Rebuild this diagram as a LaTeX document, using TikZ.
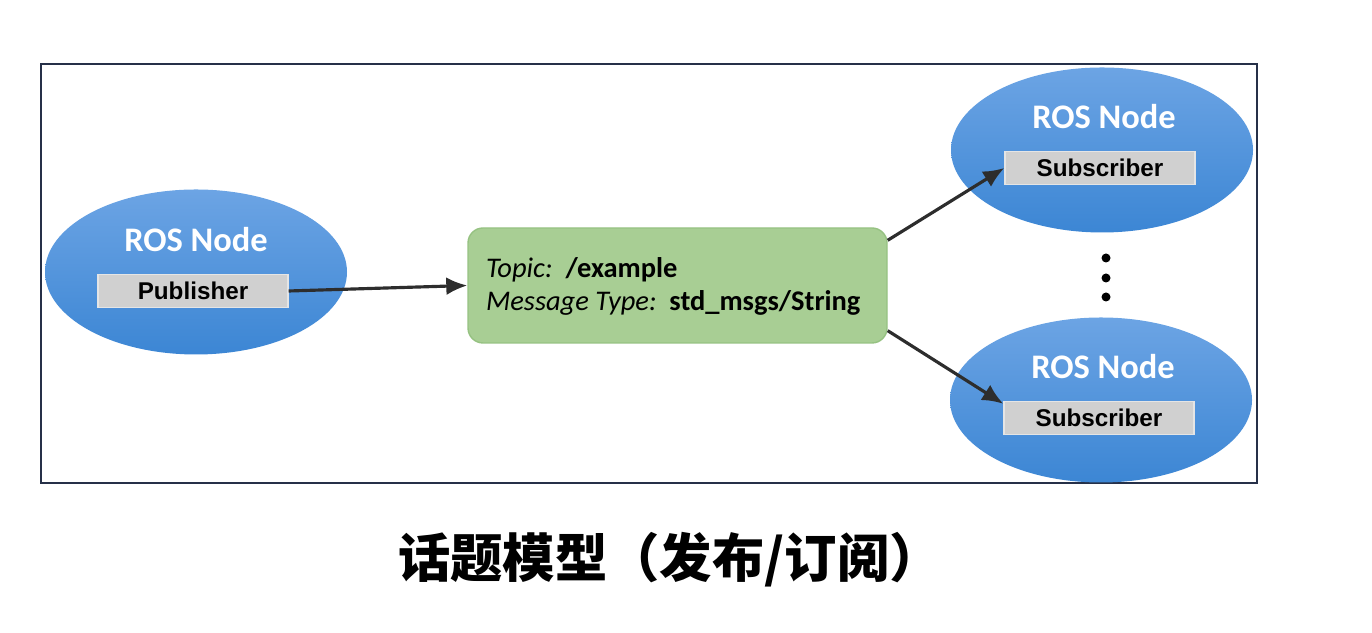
\documentclass[tikz,border=0pt]{standalone}
\usepackage{fontspec}
\setmainfont{Carlito}
\newfontfamily\arialfont{Liberation Sans}
\newfontfamily\cjk{Noto Sans CJK SC}
\usepackage{xcolor}
\usetikzlibrary{arrows.meta,positioning,shapes.geometric}
\definecolor{framenavy}{RGB}{38,48,72}
\definecolor{nodetop}{RGB}{108,164,228}
\definecolor{nodebot}{RGB}{60,134,212}
\definecolor{topicgreen}{RGB}{168,206,148}
\definecolor{topicedge}{RGB}{150,194,130}
\definecolor{boxgray}{RGB}{208,208,208}
\definecolor{arrowgray}{RGB}{45,45,45}

\begin{document}
\begin{tikzpicture}[
    rosnode/.style={ellipse, draw=none, top color=nodetop, bottom color=nodebot,
                    minimum width=3.02cm, minimum height=1.65cm, inner sep=0pt},
    rostitle/.style={font=\fontsize{9.8}{11}\selectfont\bfseries, text=white, inner sep=0pt},
    rolebox/.style={draw=white!80!gray, fill=boxgray, minimum width=1.90cm, minimum height=0.33cm,
                    inner sep=0pt, font=\arialfont\fontsize{6.9}{8}\selectfont\bfseries},
    topicbox/.style={draw=topicedge, fill=topicgreen, rounded corners=0.15cm,
                     minimum width=4.19cm, minimum height=1.15cm},
    link/.style={-{Latex[length=2.1mm,width=1.8mm]}, line width=0.9pt, draw=arrowgray},
    dot/.style={circle, fill=black, inner sep=0pt, minimum size=0.09cm}]

    \useasboundingbox (0,0) rectangle (13.72,6.33);
    \draw[framenavy, line width=0.6pt] (0.41,1.50) rectangle (12.57,5.69);

    % publisher side
    \node[rosnode] (pubnode) at (1.96,3.61) {};
    \node[rostitle] (pubtitle) at ([yshift=0.32cm]pubnode.center) {ROS Node};
    \node[rolebox] (pub) at ([xshift=-0.03cm, yshift=-0.19cm]pubnode.center) {Publisher};

    % topic
    \node[topicbox] (topic) at (6.775,3.475) {};
    \node[anchor=west, align=left, inner sep=0pt, font=\fontsize{8.1}{9.4}\selectfont] (topictext)
        at ([xshift=0.18cm, yshift=-0.01cm]topic.west)
        {\textit{Topic:}\ \ \textbf{/example}\\\textit{Message Type:}\ \ \textbf{std\_msgs/String}};

    % subscribers
    \node[rosnode] (subnode1) at (11.02,4.83) {};
    \node[rosnode] (subnode2) at (11.01,2.33) {};
    \foreach \n in {1,2} {
        \node[rostitle] (subtitle\n) at ([xshift=0.02cm, yshift=0.33cm]subnode\n.center) {ROS Node};
        \node[rolebox] (sub\n) at ([xshift=-0.02cm, yshift=-0.18cm]subnode\n.center) {Subscriber};
    }

    \node[dot] (dota) at (11.06,3.75) {};
    \node[dot] (dotb) at (11.06,3.55) {};
    \node[dot] (dotc) at (11.06,3.36) {};

    \draw[link] (pub.east) -- (topic.west);
    \draw[link] ([yshift=-0.13cm]topic.north east) -- (sub1.west);
    \draw[link] ([yshift=0.13cm]topic.south east) -- ([yshift=-0.03cm]sub2.north west);

    \node[font=\cjk\fontsize{14.9}{16}\selectfont\bfseries] (caption) at (6.70,0.73) {话题模型（发布/订阅）};
\end{tikzpicture}
\end{document}
